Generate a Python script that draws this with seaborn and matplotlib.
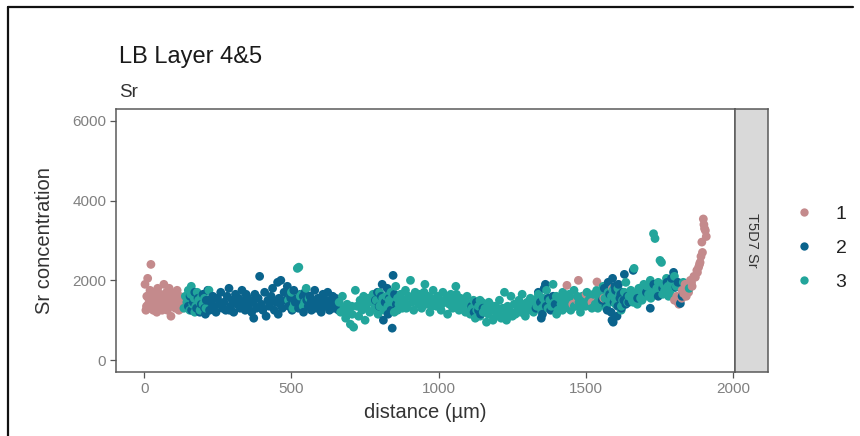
import numpy as np
import pandas as pd
import matplotlib
matplotlib.use("Agg")
import matplotlib.pyplot as plt
from matplotlib.lines import Line2D
import seaborn as sns

sns.set_theme(style="white")
plt.rcParams['font.family'] = ['Liberation Sans', 'DejaVu Sans']

# ---------------- data ----------------
s1_x = [3, 6, 9, 12, 14, 17, 20, 23, 25, 28, 31, 34, 37, 40, 43, 46, 49, 52, 55, 58,
        61, 64, 67, 70, 73, 76, 79, 82, 85, 88, 91, 94, 97, 100, 103, 106, 109, 112, 115, 118,
        121, 124, 127, 130, 8, 18, 30, 42, 54, 66, 78, 90, 102, 114, 126, 15, 35, 60, 85, 110,
        1435, 1470, 1474, 1500, 1537, 1560, 1590, 1455, 1520,
        1800, 1808, 1815, 1820, 1826, 1831, 1836, 1843, 1848, 1854, 1860, 1866, 1871, 1876, 1882,
        1887, 1893, 1898, 1902, 1905, 1908, 1812, 1840, 1858, 1878, 1895, 1900, 1890, 1885, 1845, 1825]
s1_y = [1900, 1250, 1600, 2050, 1400, 1300, 1750, 2400, 1550, 1700, 1250, 1450, 1350, 1600, 1200, 1800, 1500, 1300, 1650, 1400,
        1250, 1550, 1900, 1350, 1450, 1700, 1250, 1600, 1800, 1400, 1100, 1500, 1350, 1650, 1450, 1300, 1550, 1750, 1400, 1250,
        1600, 1450, 1300, 1500, 1350, 1650, 1400, 1550, 1300, 1450, 1600, 1700, 1500, 1450, 1350, 1550, 1250, 1400, 1500, 1350,
        1875, 1500, 2000, 1650, 1960, 1550, 1800, 1400, 1450,
        1500, 1600, 1400, 1550, 1750, 1670, 1900, 1830, 1700, 2000, 1850, 2100, 2080, 2250, 2330,
        2450, 2960, 3540, 3300, 3250, 3100, 1450, 1600, 1950, 2200, 2700, 3400, 2600, 2400, 1750, 1550]

s2_x = [150, 156, 161, 167, 172, 178, 183, 189, 194, 200,
        205, 211, 216, 222, 227, 233, 238, 244, 249, 255,
        260, 266, 271, 277, 282, 288, 293, 299, 304, 310,
        315, 321, 326, 332, 337, 343, 348, 354, 359, 365,
        370, 376, 381, 387, 392, 398, 403, 409, 414, 420,
        425, 431, 436, 442, 447, 453, 458, 464, 469, 475,
        480, 486, 491, 497, 502, 508, 513, 519, 524, 530,
        535, 541, 546, 552, 557, 563, 568, 574, 579, 585,
        590, 596, 601, 607, 612, 618, 623, 629, 634, 640,
        645, 650, 655, 660, 208, 290, 372, 455, 540, 620,
        230, 262, 318, 346, 395, 428, 462, 498, 566, 602,
        785, 792, 798, 805, 812, 818, 825, 832, 838, 845, 850, 856, 808, 828, 842,
        1112, 1120, 1128, 1135, 1142, 1150,
        1330, 1338, 1345, 1352, 1358, 1365, 1372, 1380, 1388, 1395, 1348, 1362,
        1555, 1562, 1568, 1575, 1580, 1585, 1590, 1595, 1600, 1605, 1610, 1615, 1620, 1625, 1630, 1635, 1640,
        1572, 1588, 1598, 1608, 1618, 1628, 1592, 1645, 1660, 1675,
        1705, 1718, 1730, 1745, 1760, 1775, 1790, 1797, 1805, 1812, 1820, 1826]
s2_y = [1350, 1600, 1250, 1450, 1700, 1300, 1550, 1200, 1400, 1650,
        1300, 1500, 1750, 1250, 1450, 1600, 1350, 1200, 1550, 1400,
        1700, 1300, 1450, 1250, 1600, 1800, 1350, 1500, 1200, 1650,
        1400, 1550, 1300, 1750, 1450, 1250, 1600, 1350, 1500, 1200,
        1450, 1650, 1300, 1550, 2100, 1400, 1250, 1700, 1100, 1500,
        1350, 1600, 1800, 1250, 1450, 1950, 1550, 2000, 1300, 1700,
        1500, 1850, 1350, 1600, 1250, 1750, 1450, 1550, 1300, 1650,
        1400, 1200, 1700, 1500, 1350, 1600, 1250, 1450, 1750, 1300,
        1550, 1400, 1200, 1650, 1350, 1500, 1700, 1250, 1450, 1600,
        1300, 1550, 1400, 1250, 1150, 1250, 1050, 1150, 1600, 1400,
        1550, 1400, 1500, 1650, 1350, 1500, 1400, 1550, 1450, 1500,
        1500, 1700, 1350, 1600, 1000, 1450, 1800, 1550, 1250, 2125, 1650, 1400, 1900, 1150, 800,
        1350, 1200, 1450, 1250, 1150, 1300,
        1300, 1700, 1450, 1150, 1800, 1350, 1550, 1250, 1600, 1400, 1050, 1900,
        1500, 1800, 1350, 1950, 1650, 1200, 2050, 1450, 1750, 1100, 1900, 1550, 1300, 1700, 2150, 1400, 1600,
        1250, 1000, 1850, 1350, 1650, 1500, 950, 1450, 2250, 1550,
        1700, 1300, 1900, 1600, 1800, 1950, 2050, 2200, 1830, 1950, 1420, 1600]

s3_x = [135, 140, 145, 150, 155, 160, 165, 170, 175, 180, 185, 190, 195, 200, 210, 220, 158, 172, 188, 205,
        490, 500, 510, 520, 525, 530, 540, 550, 560, 505, 535, 545,
        662, 667, 673, 678, 684, 689, 695, 700, 706, 711,
        717, 722, 728, 733, 739, 744, 750, 755, 761, 766,
        772, 777, 783, 788, 794, 799, 805, 810, 816, 821,
        827, 832, 838, 843, 849, 854, 860, 865, 871, 876,
        882, 887, 893, 898, 904, 909, 915, 920, 926, 931,
        937, 942, 948, 953, 959, 964, 970, 975, 981, 986,
        992, 997, 1003, 1008, 1014, 1019, 1025, 1030, 1036, 1041,
        1047, 1052, 1058, 1063, 1069, 1074, 1080, 1085, 1091, 1096,
        1102, 1107, 1113, 1118, 1124, 1129, 1135, 1140, 1146, 1151,
        1157, 1162, 1168, 1173, 1179, 1184, 1190, 1195, 1201, 1206,
        1212, 1217, 1223, 1228, 1234, 1239, 1245, 1250, 1256, 1261,
        1267, 1272, 1278, 1283, 1289, 1294, 1300, 1305, 1311, 1316,
        1322, 1327, 1333, 1338, 1344, 1349, 1355, 1360, 1366, 1371,
        1377, 1382, 1388, 1393, 1399, 1404, 1410, 1415, 1421, 1426,
        1432, 1437, 1443, 1448, 1454, 1459, 1465, 1470, 1476, 1481,
        1487, 1492, 1498, 1503, 1509, 1514, 1520, 1525, 1531, 1536,
        1542, 1547, 1553, 1558, 1564, 1569, 1575, 1580, 1586, 1591,
        1597, 1602, 1608, 1613, 1619, 1624, 1630, 1635, 1641, 1646,
        1652, 1657, 1663, 1668, 1674, 1679, 1685, 1690, 1696, 1701,
        1707, 1712, 1718, 1723, 1729, 1734, 1740, 1745, 1751, 1756,
        1762, 1767, 1773, 1778, 1784, 1789, 1795, 1800, 1806, 1811,
        690, 745, 800, 860, 915, 975, 1040, 1110, 1170, 1230,
        1290, 1350, 1420, 1480, 1540, 1600, 1660, 1720, 1760, 1830,
        705, 760, 830, 890, 950, 1010, 1060, 1140, 1200, 1260,
        1340, 1400, 1460, 1510, 1570, 1620, 1690, 1735, 1780, 1850]
s3_y = [1300, 1600, 1450, 1750, 1250, 1850, 1400, 1550, 1350, 1700, 1500, 1250, 1600, 1400, 1300, 1750, 1650, 1200, 1450, 1550,
        1500, 1700, 1400, 2300, 2330, 1600, 1350, 1800, 1550, 1300, 1650, 1450,
        1450, 1200, 1600, 1300, 1050, 1400, 1250, 900, 1150, 825,
        1750, 1350, 1100, 1500, 1250, 1400, 1000, 1300, 1550, 1200,
        1450, 1650, 1300, 1500, 1150, 1700, 1400, 1550, 1250, 1600,
        1350, 1500, 1700, 1450, 1200, 1850, 1550, 1400, 1650, 1300,
        1500, 1750, 1350, 1600, 2000, 1450, 1250, 1700, 1550, 1400,
        1650, 1300, 1500, 1900, 1400, 1600, 1200, 1550, 1750, 1450,
        1350, 1600, 1500, 1250, 1700, 1450, 1550, 1150, 1400, 1650,
        1300, 1500, 1850, 1400, 1250, 1550, 1350, 1450, 1200, 1600,
        1400, 1150, 1300, 1500, 1050, 1250, 1350, 1100, 1450, 1200,
        1300, 950, 1150, 1400, 1250, 1000, 1350, 1100, 1200, 1500,
        1050, 1300, 1700, 1150, 1350, 1250, 1600, 1100, 1400, 1200,
        1350, 1500, 1200, 1650, 1300, 1100, 1450, 1250, 1550, 1350,
        1200, 1500, 1350, 1650, 1450, 1250, 1550, 1400, 1750, 1300,
        1500, 1350, 1900, 1450, 1600, 1250, 1550, 1400, 1700, 1300,
        1550, 1400, 1650, 1250, 1500, 1750, 1350, 1600, 1450, 1200,
        1600, 1450, 1350, 1700, 1500, 1550, 1300, 1650, 1400, 1750,
        1500, 1650, 1400, 1850, 1550, 1300, 1700, 1450, 1600, 1750,
        1550, 1400, 1800, 1650, 1250, 1500, 1700, 1950, 1450, 1600,
        1750, 1500, 2300, 1650, 1400, 1800, 1550, 1700, 1900, 1600,
        1850, 1650, 2000, 1750, 3170, 3050, 1800, 1950, 2500, 2450,
        1900, 1750, 2050, 1850, 1700, 1950, 1800, 2100, 1850, 1900,
        1150, 1600, 1350, 1250, 1550, 1350, 1500, 1300, 1450, 1000,
        1400, 1300, 1250, 1400, 1300, 1400, 1450, 1550, 1650, 1950,
        1350, 1500, 1600, 1300, 1700, 1400, 1650, 1500, 1300, 1150,
        1600, 1150, 1350, 1450, 1550, 1350, 1500, 1700, 1600, 1800]

groups = ["1", "2", "3"]
palette = {"1": "#C48A8C", "2": "#0A638C", "3": "#22A59B"}

df = pd.DataFrame({
    "distance": s1_x + s2_x + s3_x,
    "Sr": s1_y + s2_y + s3_y,
    "group": ["1"] * len(s1_x) + ["2"] * len(s2_x) + ["3"] * len(s3_x),
}).sort_values("distance", kind="stable")

# ---------------- figure ----------------
W, H = 860, 436
fig = plt.figure(figsize=(W / 100, H / 100), dpi=100)
fig.patch.set_facecolor("white")

def fx(px):
    return px / W

def fy(py):
    return 1 - py / H

L, R, T, B = 116, 735, 109, 372
ax = fig.add_axes([fx(L), fy(B), fx(R) - fx(L), fy(T) - fy(B)])
sns.scatterplot(data=df, x="distance", y="Sr", hue="group", palette=palette,
                hue_order=groups, s=40, linewidth=0, alpha=1, ax=ax, legend=False)

ax.set_xlim(-95.5, 2005.5)
ax.set_ylim(-300, 6300)
ax.set_xticks([0, 500, 1000, 1500, 2000])
ax.set_yticks([0, 2000, 4000, 6000])
ax.tick_params(axis="both", direction="out", length=4, width=0.9, color="#555555",
               labelcolor="#808080", labelsize=11, pad=3, bottom=True, left=True)
for sp in ax.spines.values():
    sp.set_visible(True)
    sp.set_color("#5a5a5a")
    sp.set_linewidth(1.1)
ax.grid(False)
ax.set_facecolor("white")
ax.set_xlabel("distance (µm)", fontsize=14.5, color="#333333", va="center")
ax.set_ylabel("Sr concentration", fontsize=14.5, color="#333333", va="center")
ax.xaxis.set_label_coords((425 - L) / (R - L), (B - 412) / (B - T))
ax.yaxis.set_label_coords((44 - L) / (R - L), 0.5)

# facet strip on the right
sx = fig.add_axes([fx(R), fy(B), fx(768) - fx(R), fy(T) - fy(B)])
sx.set_facecolor("#D9D9D9")
sx.set_xticks([])
sx.set_yticks([])
for sp in sx.spines.values():
    sp.set_color("#5a5a5a")
    sp.set_linewidth(1.1)
sx.text(0.5, 0.5, "T5D7 Sr", rotation=-90, ha="center", va="center",
        fontsize=10.5, color="#333333", transform=sx.transAxes)

# titles
fig.text(fx(119), fy(63), "LB Layer 4&5", fontsize=17, color="#1a1a1a",
         ha="left", va="baseline")
fig.text(fx(119), fy(97), "Sr", fontsize=13.5, color="#333333", ha="left", va="baseline")

# legend
handles = [Line2D([], [], marker="o", linestyle="", markersize=6,
                  markerfacecolor=palette[g], markeredgewidth=0) for g in groups]
leg = fig.legend(handles, groups, loc="center left",
                 bbox_to_anchor=(fx(785), fy(248)), frameon=False,
                 fontsize=14, handlelength=1.0, handletextpad=1.1,
                 labelspacing=0.85, borderpad=0)
for t in leg.get_texts():
    t.set_color("#222222")

# outer border lines of the reference image
fig.add_artist(Line2D([fx(8), fx(8)], [fy(7), fy(436)], color="#111111", linewidth=1.6))
fig.add_artist(Line2D([fx(8), fx(853)], [fy(7), fy(7)], color="#111111", linewidth=1.6))

fig.savefig("out.png", dpi=100, facecolor="white")
